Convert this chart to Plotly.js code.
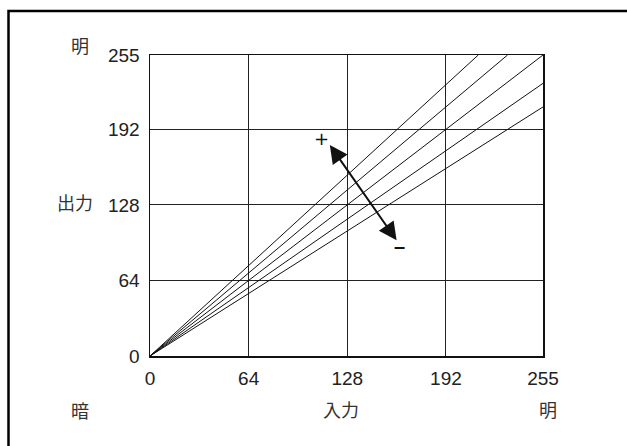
<!DOCTYPE html>
<html>
<head>
<meta charset="utf-8">
<script src="https://cdn.plot.ly/plotly-3.0.1.min.js"></script>
<style>html,body{margin:0;padding:0;background:#fff;}#chart{width:627px;height:446px;}</style>
</head>
<body>
<div id="chart"></div>
<script>
// Tick values (both axes)
var tickValues = [0, 64, 128, 192, 255];
var tickLabels = ["0", "64", "128", "192", "255"];
// Tone curve end points (each line starts at the origin)
var curveEndX = [213, 232, 255, 255, 255];
var curveEndY = [255, 255, 255, 231, 211];
// Arrow (from "+" side to "-" side), data coordinates
var arrowStart = [116, 180];
var arrowEnd = [160, 98];
var plusPos = [111, 184];
var minusPos = [162, 93];

var L = 150, R = 84, T = 55, B = 90, W = 627, H = 446;
var pw = W - L - R, ph = H - T - B;
function px(x) { return (x - L) / pw; }
function py(y) { return (H - B - y) / ph; }

var traces = curveEndX.map(function (ex, i) {
  return {
    x: [0, ex], y: [0, curveEndY[i]], mode: 'lines', type: 'scatter',
    line: {color: '#111', width: 1}, hoverinfo: 'skip', showlegend: false
  };
});

var numFont = {family: 'Liberation Sans, Arial, sans-serif', size: 19, color: '#222'};
var jpFont = {family: 'Noto Sans CJK JP, sans-serif', size: 18, color: '#333'};

function axis() {
  return {
    range: [0, 255], tickvals: tickValues, ticktext: tickLabels,
    showgrid: true, gridcolor: '#222', gridwidth: 1,
    zeroline: false, showline: true, linecolor: '#111', linewidth: 1.5, mirror: true,
    ticks: 'outside', ticklen: 6, tickcolor: 'rgba(0,0,0,0)',
    tickfont: numFont, fixedrange: true
  };
}
var xa = axis(); xa.ticklen = 5;
var ya = axis(); ya.ticklen = 5;

function label(xp, yp, t) {
  return {x: px(xp), y: py(yp), xref: 'paper', yref: 'paper', text: t, showarrow: false,
          xanchor: 'center', yanchor: 'middle', font: jpFont};
}

var annotations = [
  {x: arrowEnd[0], y: arrowEnd[1], ax: arrowStart[0], ay: arrowStart[1], xref: 'x', yref: 'y', axref: 'x', ayref: 'y',
   text: '', showarrow: true, arrowhead: 2, startarrowhead: 2, arrowside: 'end+start', arrowwidth: 2, arrowsize: 1.8, startarrowsize: 1.8, arrowcolor: '#111'},
  {x: plusPos[0], y: plusPos[1], xref: 'x', yref: 'y', text: '+', showarrow: false, xanchor: 'center', yanchor: 'middle',
   font: {family: 'DejaVu Sans, Liberation Sans', size: 18, color: '#111'}},
  {x: minusPos[0], y: minusPos[1], xref: 'x', yref: 'y', text: '<b>–</b>', showarrow: false, xanchor: 'center', yanchor: 'middle',
   font: {family: 'Liberation Sans, Arial', size: 20, color: '#111'}},
  label(80, 45, '明'),
  label(75, 202, '出力'),
  label(80, 410, '暗'),
  label(341, 409, '入力'),
  label(548, 409, '明')
];

var shapes = [
  {type: 'path', xref: 'paper', yref: 'paper',
   path: 'M ' + px(8.5) + ' ' + py(460) + ' L ' + px(8.5) + ' ' + py(11) + ' L ' + px(640) + ' ' + py(11),
   line: {color: '#000', width: 2.5}}
];

var layout = {
  width: W, height: H, margin: {l: L, r: R, t: T, b: B, pad: 0},
  paper_bgcolor: '#fff', plot_bgcolor: '#fff',
  xaxis: xa, yaxis: ya, annotations: annotations, shapes: shapes, showlegend: false
};
Plotly.newPlot('chart', traces, layout, {staticPlot: true, displayModeBar: false});
</script>
</body>
</html>
